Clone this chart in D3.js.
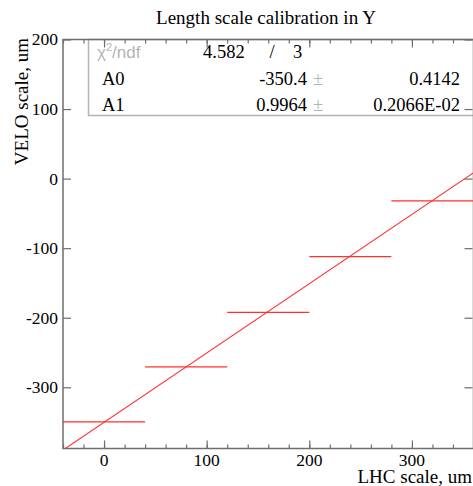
<!DOCTYPE html>
<html>
<head>
<meta charset="utf-8">
<script src="https://cdn.jsdelivr.net/npm/d3@7"></script>
<style>
  body { margin: 0; background: #fff; }
  svg { display: block; }
  .serif { font-family: "Liberation Serif", "Times New Roman", serif; }
</style>
</head>
<body>
<div id="chart"></div>
<script>
// data
const binCenters = [0, 80, 160, 240, 320]
const binHalfWidth = [40, 40, 40, 40, 40]
const binValues = [-349.6, -270.7, -192.4, -112.1, -32.0]

// fit result y = A0 + A1 * x
const fitA0 = -350.4
const fitA1 = 0.9964
const fitRange = [-40, 360]

const xTicks = [0, 100, 200, 300]
const yTicks = [-300, -200, -100, 0, 100, 200]

const statRows = [
    {name: "A0", value: "-350.4", error: "0.4142"},
    {name: "A1", value: "0.9964", error: "0.2066E-02"}
]
const chi2 = "4.582"
const ndf = "3"

const width = 473, height = 486
const margin = {top: 39.5, right: 0, bottom: 37.5, left: 63}

const svg = d3.select("#chart").append("svg")
    .attr("width", width)
    .attr("height", height)

const x = d3.scaleLinear()
    .domain([-40, 360])
    .range([margin.left, 473.5])

const y = d3.scaleLinear()
    .domain([-388, 200])
    .range([height - margin.bottom, margin.top])

const axisColor = "#6e6e6e"

// clip for the data area
svg.append("clipPath").attr("id", "plotClip")
    .append("rect")
    .attr("x", x.range()[0]).attr("y", y.range()[1])
    .attr("width", x.range()[1] - x.range()[0])
    .attr("height", y.range()[0] - y.range()[1])

// stats box (drawn under the ticks)
const box = svg.append("g").attr("class", "stats")
box.append("rect")
    .attr("x", 88.5).attr("y", y.range()[1])
    .attr("width", 400).attr("height", 115.5 - y.range()[1])
    .attr("fill", "none")
    .attr("stroke", "#b4b4b4")
    .attr("stroke-width", 1.5)

// axes: major and minor ticks pointing inward, labels drawn separately
function drawTicks(axisFn, scale, pos, majors) {
    const minors = d3.range(scale.domain()[0], scale.domain()[1] + 0.001, 20)
        .filter(v => Math.ceil(v / 20) * 20 === v)
    const gMinor = svg.append("g")
        .attr("transform", pos)
        .call(axisFn(scale).tickValues(minors).tickSize(-4).tickSizeOuter(0).tickFormat(""))
    const gMajor = svg.append("g")
        .attr("transform", pos)
        .call(axisFn(scale).tickValues(majors).tickSize(-8).tickSizeOuter(0).tickFormat(""))
    for (const g of [gMinor, gMajor]) {
        g.select(".domain").remove()
        g.selectAll(".tick line").attr("stroke", axisColor).attr("stroke-width", 1.2)
        g.selectAll(".tick text").remove()
    }
}

drawTicks(d3.axisBottom, x, `translate(0,${y.range()[0]})`, xTicks)
drawTicks(d3.axisTop, x, `translate(0,${y.range()[1]})`, xTicks)
drawTicks(d3.axisLeft, y, `translate(${x.range()[0]},0)`, yTicks)
drawTicks(d3.axisRight, y, `translate(${x.range()[1] - 1},0)`, yTicks)

// tick labels
const tickSize = "17.5px"
svg.append("g").selectAll("text")
    .data(xTicks)
    .enter()
    .append("text")
    .attr("class", "serif")
    .attr("x", d => x(d))
    .attr("y", y.range()[0] + 17)
    .attr("text-anchor", "middle")
    .style("font-size", tickSize)
    .text(d => String(d))

svg.append("g").selectAll("text")
    .data(yTicks)
    .enter()
    .append("text")
    .attr("class", "serif")
    .attr("x", x.range()[0] - 5)
    .attr("y", d => y(d))
    .attr("dy", "0.34em")
    .attr("text-anchor", "end")
    .style("font-size", tickSize)
    .text(d => String(d))

// frame
svg.append("rect")
    .attr("x", x.range()[0]).attr("y", y.range()[1])
    .attr("width", x.range()[1] - x.range()[0])
    .attr("height", y.range()[0] - y.range()[1])
    .attr("fill", "none")
    .attr("stroke", axisColor)
    .attr("stroke-width", 1.5)

// horizontal error bars
const plot = svg.append("g").attr("clip-path", "url(#plotClip)")
plot.selectAll(".bin")
    .data(binCenters.map((c, i) => ({c: c, hw: binHalfWidth[i], v: binValues[i]})))
    .enter()
    .append("line")
    .attr("class", "bin")
    .attr("x1", d => x(d.c - d.hw))
    .attr("x2", d => x(d.c + d.hw))
    .attr("y1", d => y(d.v))
    .attr("y2", d => y(d.v))
    .attr("stroke", "#ff3030")
    .attr("stroke-width", 1.2)

// fit line
const fitLine = d3.line()
    .x(d => x(d))
    .y(d => y(fitA0 + fitA1 * d))
plot.append("path")
    .datum(fitRange)
    .attr("fill", "none")
    .attr("stroke", "#ff3030")
    .attr("stroke-width", 1.1)
    .attr("d", fitLine)

// stats text
const statSize = "18.5px"
const chiText = box.append("text")
    .attr("x", 97).attr("y", 57.5)
    .attr("fill", "#b4b4b4")
    .style("font-family", "'Liberation Sans', Arial, sans-serif")
    .style("font-size", "17px")
    .style("font-weight", "300")
chiText.append("tspan").text("χ")
chiText.append("tspan").attr("dy", -7).style("font-size", "11px").text("2")
chiText.append("tspan").attr("dy", 7).text("/ndf")

box.append("text").attr("class", "serif")
    .attr("x", 203).attr("y", 57.5)
    .style("font-size", statSize)
    .text(chi2)
box.append("text").attr("class", "serif")
    .attr("x", 272).attr("y", 57.5)
    .attr("text-anchor", "middle")
    .style("font-size", statSize)
    .text("/")
box.append("text").attr("class", "serif")
    .attr("x", 293).attr("y", 57.5)
    .style("font-size", statSize)
    .text(ndf)

const rows = box.selectAll(".row")
    .data(statRows)
    .enter()
    .append("g")
    .attr("class", "row")
    .attr("transform", (d, i) => `translate(0,${84.5 + i * 26})`)
rows.append("text").attr("class", "serif")
    .attr("x", 102)
    .style("font-size", statSize)
    .text(d => d.name)
rows.append("text").attr("class", "serif")
    .attr("x", 307).attr("text-anchor", "end")
    .style("font-size", statSize)
    .text(d => d.value)
rows.append("text").attr("class", "serif")
    .attr("x", 318).attr("text-anchor", "middle")
    .attr("fill", "#b4b4b4")
    .style("font-size", statSize)
    .text("±")
rows.append("text").attr("class", "serif")
    .attr("x", 460).attr("text-anchor", "end")
    .style("font-size", statSize)
    .text(d => d.error)

// titles
svg.append("text").attr("class", "serif")
    .attr("x", 266).attr("y", 24)
    .attr("text-anchor", "middle")
    .style("font-size", "19px")
    .text("Length scale calibration in Y")

svg.append("text").attr("class", "serif")
    .attr("x", 472).attr("y", 483)
    .attr("text-anchor", "end")
    .style("font-size", "19px")
    .text("LHC scale, um")

svg.append("text").attr("class", "serif")
    .attr("transform", "translate(28,38) rotate(-90)")
    .attr("text-anchor", "end")
    .style("font-size", "19px")
    .text("VELO scale, um")
</script>
</body>
</html>
